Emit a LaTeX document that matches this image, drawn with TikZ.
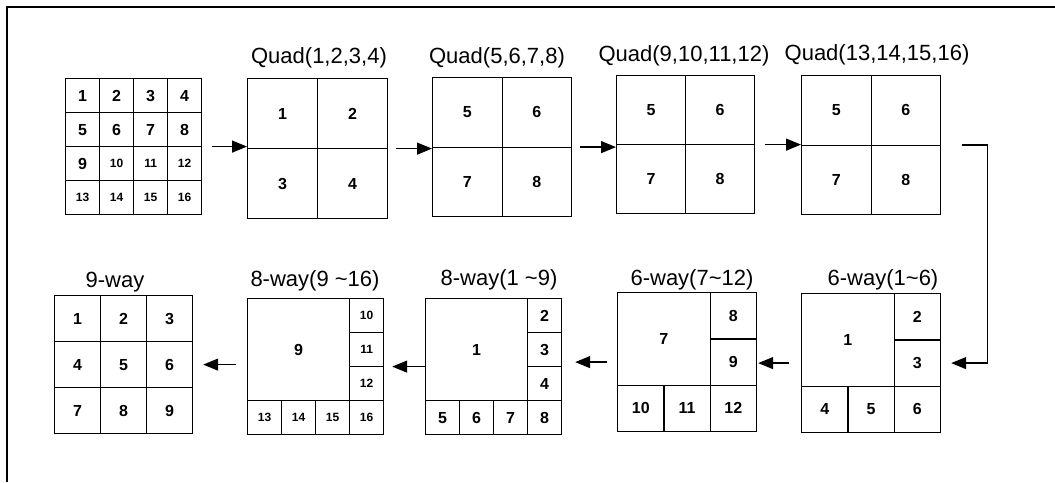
\documentclass[tikz,border=0pt]{standalone}
\usepackage{fontspec}
\setmainfont{Liberation Sans}
\usetikzlibrary{arrows.meta,positioning,calc}

\newcommand\smalldig{\fontsize{12}{12}\selectfont}

\begin{document}
\begin{tikzpicture}[
  x=1pt, y=-1pt,
  arr/.style={-{Triangle[length=15pt,width=12pt]}, line width=1.3pt},
  frame/.style={draw, line width=1.2pt, inner sep=0pt, anchor=north west, minimum size=#1},
  cell/.style={draw, line width=1.2pt, inner sep=0pt, anchor=north west, minimum size=#1,
    font=\bfseries\fontsize{16}{16}\selectfont},
  title/.style={font=\fontsize{22}{22}\selectfont}
]

% Page size and the cut-off outer frame
\useasboundingbox (0,0) rectangle (1055,482);
\draw[line width=2pt] (7,482) -- (7,7) -- (1055,7);

% 16 channel source grid
\node[frame=136pt] (grid) at (65,78) {};
\foreach \v in {1,...,16} {
  \pgfmathtruncatemacro\cx{mod(\v-1,4)}
  \pgfmathtruncatemacro\cy{div(\v-1,4)}
  \node[cell=34pt] (grid-\v) at ({65+34*\cx},{78+34*\cy}) {\ifnum\v>9 \smalldig\fi\v};
}

% Quad screens of the first row
\foreach \q/\x/\y/\s/\lst in {q1/247/78/70/{1,2,3,4}, q2/432/77/69.5/{5,6,7,8},
    q3/616/75/69/{5,6,7,8}, q4/801/75/69.5/{5,6,7,8}} {
  \node[frame=2*\s pt] (\q) at (\x,\y) {};
  \foreach \v [count=\i from 0] in \lst {
    \pgfmathtruncatemacro\cx{mod(\i,2)}
    \pgfmathtruncatemacro\cy{div(\i,2)}
    \node[cell=\s pt] (\q-\i) at ({\x+\s*\cx},{\y+\s*\cy}) {\v};
  }
}
\node[title] (t1) at (319,58) {Quad(1,2,3,4)};
\node[title] (t2) at (497,58) {Quad(5,6,7,8)};
\node[title] (t3) at (684,56) {Quad(9,10,11,12)};
\node[title] (t4) at (877,55) {Quad(13,14,15,16)};

% 6-way screens: one large cell and five small ones
\foreach \w/\x/\y/\first in {w6a/801/293/1, w6b/617/292/7} {
  \node[frame=139pt] (\w) at (\x,\y) {};
  \node[cell=92.6pt] (\w-\first) at (\x,\y) {\first};
  \foreach \cx/\cy [count=\i] in {2/0, 2/1, 0/2, 1/2, 2/2} {
    \pgfmathtruncatemacro\v{\first+\i}
    \node[cell=46.3pt] (\w-\v) at ({\x+46.3*\cx},{\y+46.3*\cy}) {\v};
  }
}

% 8-way screens: one large cell and seven small ones
\foreach \w/\x/\y/\first in {w8a/425/298/1, w8b/247/298/9} {
  \node[frame=136pt] (\w) at (\x,\y) {};
  \node[cell=102pt] (\w-\first) at (\x,\y) {\first};
  \foreach \cx/\cy [count=\i] in {3/0, 3/1, 3/2, 0/3, 1/3, 2/3, 3/3} {
    \pgfmathtruncatemacro\v{\first+\i}
    \node[cell=34pt] (\w-\v) at ({\x+34*\cx},{\y+34*\cy}) {\ifnum\v>9 \smalldig\fi\v};
  }
}

% 9-way screen
\node[frame=138pt] (w9) at (54,295) {};
\foreach \v in {1,...,9} {
  \pgfmathtruncatemacro\cx{mod(\v-1,3)}
  \pgfmathtruncatemacro\cy{div(\v-1,3)}
  \node[cell=46pt] (w9-\v) at ({54+46*\cx},{295+46*\cy}) {\v};
}

\node[title] (t5) at (883,280) {6-way(1\textasciitilde6)};
\node[title] (t6) at (692,280) {6-way(7\textasciitilde12)};
\node[title] (t7) at (499,280) {8-way(1 \textasciitilde9)};
\node[title] (t8) at (315,281) {8-way(9 \textasciitilde16)};
\node[title] (t9) at (115,282) {9-way};

% First row, left to right
\draw[arr, shorten <=10pt] (grid.east) -- (grid.east -| q1.west);
\draw[arr, shorten <=8pt] (q1.east) -- (q1.east -| q2.west);
\draw[arr, shorten <=8pt] (q2.east) -- (q2.east -| q3.west);
\draw[arr, shorten <=10pt] (q3.east) -- (q3.east -| q4.west);

% Down to the second row
\draw[arr, shorten <=21pt, shorten >=10pt] (q4.east) -- ++(46,0) |- (w6a.east);

% Second row, right to left
\draw[arr, shorten <=12pt, shorten >=1pt] (w6a.west) -- (w6a.west -| w6b.east);
\draw[arr, shorten <=10pt, shorten >=13pt] (w6b.west) -- (w6b.west -| w8a.east);
\draw[arr, shorten >=8pt] (w8a.west) -- (w8a.west -| w8b.east);
\draw[arr, shorten <=11pt, shorten >=10pt] (w8b.west |- w9.east) -- (w9.east);

\end{tikzpicture}
\end{document}
